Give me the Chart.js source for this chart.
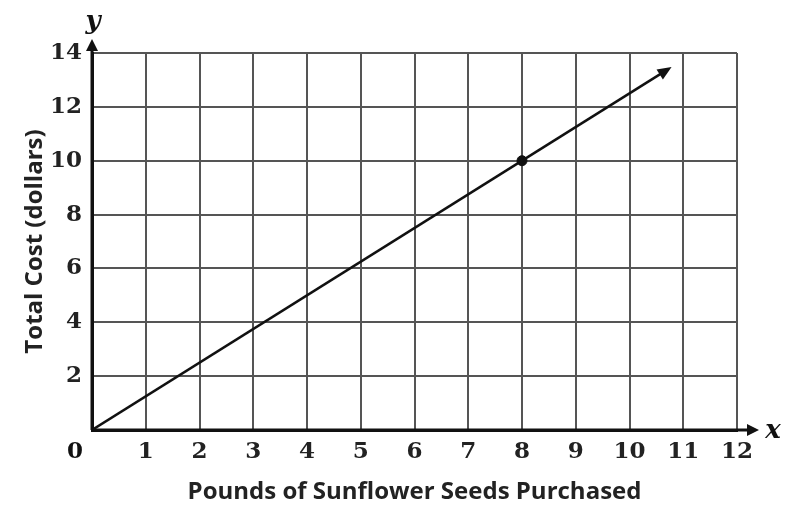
<!DOCTYPE html>
<html>
<head>
<meta charset="utf-8">
<script src="https://cdn.jsdelivr.net/npm/chart.js@4/dist/chart.umd.min.js"></script>
<style>
  html, body { margin: 0; padding: 0; background: #fff; }
  #wrap { width: 792px; height: 508px; }
</style>
</head>
<body>
<div id="wrap"><canvas id="costChart"></canvas></div>
<script>
// values
const xTicks = [0, 1, 2, 3, 4, 5, 6, 7, 8, 9, 10, 11, 12];
const yTicks = [0, 2, 4, 6, 8, 10, 12, 14];
const linePounds = [0, 10.72];
const lineCost = [0, 13.4];
const markedPounds = [8];
const markedCost = [10];

const xTitle = "Pounds of Sunflower Seeds Purchased";
const yTitle = "Total Cost (dollars)";

const tickFont = { family: "DejaVu Serif", size: 23, weight: "bold" };
const titleFont = { family: "Open Sans", size: 24, weight: "bold" };

function arrowHead(ctx, x, y, angle, len, half) {
  ctx.save();
  ctx.translate(x, y);
  ctx.rotate(angle);
  ctx.beginPath();
  ctx.moveTo(0, 0);
  ctx.lineTo(-len, -half);
  ctx.lineTo(-len, half);
  ctx.closePath();
  ctx.fill();
  ctx.restore();
}

const extras = {
  id: "extras",
  afterDraw(chart) {
    const ctx = chart.ctx;
    const xs = chart.scales.x;
    const ys = chart.scales.y;
    const x0 = xs.getPixelForValue(0);
    const y0 = ys.getPixelForValue(0);
    const right = xs.getPixelForValue(12);
    const top = ys.getPixelForValue(14);

    ctx.save();
    ctx.strokeStyle = "#111";
    ctx.fillStyle = "#111";
    ctx.lineWidth = 3;

    // axes extended past the grid with arrows
    ctx.beginPath();
    ctx.moveTo(x0, y0);
    ctx.lineTo(right + 16, y0);
    ctx.moveTo(x0, y0);
    ctx.lineTo(x0, top - 8);
    ctx.stroke();
    arrowHead(ctx, right + 22, y0, 0, 12, 6);
    arrowHead(ctx, x0, top - 14, -Math.PI / 2, 12, 6);

    // arrow at end of the line
    const meta = chart.getDatasetMeta(0).data;
    const a = meta[0], b = meta[meta.length - 1];
    const ang = Math.atan2(b.y - a.y, b.x - a.x);
    arrowHead(ctx, b.x + 4 * Math.cos(ang), b.y + 4 * Math.sin(ang), ang, 14, 6);

    // axis letters and origin label
    ctx.font = "italic bold 26px 'DejaVu Serif'";
    ctx.textAlign = "center";
    ctx.textBaseline = "middle";
    ctx.fillText("x", right + 36, y0 + 1);
    ctx.fillText("y", x0 + 1, top - 31);

    ctx.font = "bold 23px 'DejaVu Serif'";
    ctx.fillText("0", x0 - 17, y0 + 22);
    ctx.restore();
  }
};

new Chart(document.getElementById("costChart"), {
  type: "scatter",
  data: {
    datasets: [
      {
        data: linePounds.map((x, i) => ({ x, y: lineCost[i] })),
        showLine: true,
        borderColor: "#111",
        borderWidth: 2.5,
        pointRadius: 0
      },
      {
        data: markedPounds.map((x, i) => ({ x, y: markedCost[i] })),
        pointRadius: 5,
        pointBackgroundColor: "#111",
        pointBorderColor: "#111"
      }
    ]
  },
  options: {
    responsive: true,
    maintainAspectRatio: false,
    animation: false,
    layout: { padding: { top: 53, right: 55, left: 0, bottom: 0 } },
    plugins: { legend: { display: false }, tooltip: { enabled: false } },
    scales: {
      x: {
        type: "linear",
        min: xTicks[0],
        max: xTicks[xTicks.length - 1],
        afterBuildTicks: (scale) => { scale.ticks = xTicks.map((v) => ({ value: v })); },
        afterFit: (scale) => { scale.height = 78; },
        ticks: {
          color: "#222",
          font: tickFont,
          padding: 8,
          callback: (v) => (v === 0 ? "" : v)
        },
        grid: { color: "#555", lineWidth: 2, drawTicks: false },
        border: { color: "#111", width: 3 },
        title: {
          display: true,
          text: xTitle,
          color: "#222",
          font: titleFont,
          padding: { bottom: 1 }
        }
      },
      y: {
        type: "linear",
        min: yTicks[0],
        max: yTicks[yTicks.length - 1],
        afterBuildTicks: (scale) => { scale.ticks = yTicks.map((v) => ({ value: v })); },
        afterFit: (scale) => { scale.width = 92; },
        ticks: {
          color: "#222",
          font: tickFont,
          padding: 10,
          callback: (v) => (v === 0 ? "" : v)
        },
        grid: { color: "#555", lineWidth: 2, drawTicks: false },
        border: { color: "#111", width: 3 },
        title: {
          display: true,
          text: yTitle,
          color: "#222",
          font: titleFont,
          padding: { top: 21 }
        }
      }
    }
  },
  plugins: [extras]
});
</script>
</body>
</html>
